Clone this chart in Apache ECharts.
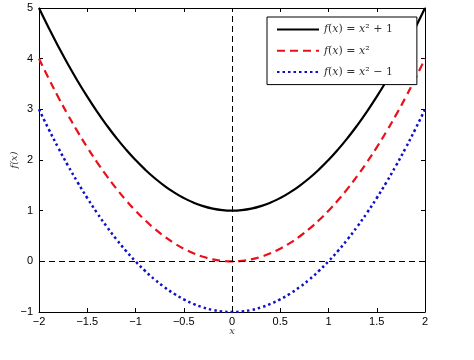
<!DOCTYPE html>
<html>
<head>
<meta charset="utf-8">
<script src="https://cdn.jsdelivr.net/npm/echarts@6/dist/echarts.min.js"></script>
<style>
  html, body { margin: 0; padding: 0; background: #fff; }
  #chart { width: 474px; height: 360px; }
</style>
</head>
<body>
<div id="chart"></div>
<script>
// x 取样点
const xs = [-2, -1.9, -1.8, -1.7, -1.6, -1.5, -1.4, -1.3, -1.2, -1.1, -1, -0.9, -0.8, -0.7, -0.6, -0.5, -0.4, -0.3, -0.2, -0.1, 0,
  0.1, 0.2, 0.3, 0.4, 0.5, 0.6, 0.7, 0.8, 0.9, 1, 1.1, 1.2, 1.3, 1.4, 1.5, 1.6, 1.7, 1.8, 1.9, 2];
const yPlusOne = [5, 4.61, 4.24, 3.89, 3.56, 3.25, 2.96, 2.69, 2.44, 2.21, 2, 1.81, 1.64, 1.49, 1.36, 1.25, 1.16, 1.09, 1.04, 1.01, 1,
  1.01, 1.04, 1.09, 1.16, 1.25, 1.36, 1.49, 1.64, 1.81, 2, 2.21, 2.44, 2.69, 2.96, 3.25, 3.56, 3.89, 4.24, 4.61, 5];
const ySquare = [4, 3.61, 3.24, 2.89, 2.56, 2.25, 1.96, 1.69, 1.44, 1.21, 1, 0.81, 0.64, 0.49, 0.36, 0.25, 0.16, 0.09, 0.04, 0.01, 0,
  0.01, 0.04, 0.09, 0.16, 0.25, 0.36, 0.49, 0.64, 0.81, 1, 1.21, 1.44, 1.69, 1.96, 2.25, 2.56, 2.89, 3.24, 3.61, 4];
const yMinusOne = [3, 2.61, 2.24, 1.89, 1.56, 1.25, 0.96, 0.69, 0.44, 0.21, 0, -0.19, -0.36, -0.51, -0.64, -0.75, -0.84, -0.91, -0.96, -0.99, -1,
  -0.99, -0.96, -0.91, -0.84, -0.75, -0.64, -0.51, -0.36, -0.19, 0, 0.21, 0.44, 0.69, 0.96, 1.25, 1.56, 1.89, 2.24, 2.61, 3];
const seriesNames = ["f(x) = x² + 1", "f(x) = x²", "f(x) = x² − 1"];

const pairs = (ys) => xs.map((x, i) => [x, ys[i]]);
const minus = (v) => String(v).replace("-", "−");

const axisFont = { color: "#000", fontSize: 11, fontFamily: "Liberation Sans" };
const boxLine = { show: true, onZero: false, lineStyle: { color: "#000", width: 1 } };
const boxTick = { inside: true, length: 4, lineStyle: { color: "#000" } };
const nameFont = { color: "#444", fontSize: 10, fontStyle: "italic", fontFamily: "DejaVu Serif" };

const myChart = echarts.init(document.getElementById("chart"));

const option = {
  animation: false,
  grid: { left: 39, right: 49, top: 8, bottom: 48, containLabel: false, outerBoundsMode: "none" },
  legend: {
    left: 267,
    top: 17,
    orient: "vertical",
    padding: [7, 24, 7, 9],
    itemWidth: 42,
    itemHeight: 14,
    itemGap: 10,
    backgroundColor: "#fff",
    borderColor: "#000",
    borderWidth: 1,
    borderRadius: 0,
    itemStyle: { opacity: 0 },
    data: seriesNames,
    formatter: (name) => {
      // f(x) = x^2 ...
      return name.replace(/f\(x\) = x/, "{i|f}({i|x}) = {i|x}");
    },
    textStyle: {
      color: "#333",
      fontSize: 11,
      fontFamily: "DejaVu Serif",
      rich: { i: { fontStyle: "italic", fontSize: 11, fontFamily: "DejaVu Serif", color: "#333" } },
    },
  },
  xAxis: [
    {
      type: "value",
      min: -2,
      max: 2,
      interval: 0.5,
      name: "x",
      nameLocation: "middle",
      nameGap: 14,
      nameMoveOverlap: false,
      nameTextStyle: nameFont,
      axisLine: boxLine,
      axisTick: boxTick,
      axisLabel: { ...axisFont, margin: 4, formatter: minus },
      splitLine: { show: false },
    },
    {
      type: "value",
      position: "top",
      min: -2,
      max: 2,
      interval: 0.5,
      axisLine: boxLine,
      axisTick: boxTick,
      axisLabel: { show: false },
      splitLine: { show: false },
    },
  ],
  yAxis: [
    {
      type: "value",
      min: -1,
      max: 5,
      interval: 1,
      name: "f(x)",
      nameLocation: "middle",
      nameGap: 20,
      nameMoveOverlap: false,
      nameTextStyle: nameFont,
      axisLine: boxLine,
      axisTick: boxTick,
      axisLabel: { ...axisFont, margin: 6, formatter: minus },
      splitLine: { show: false },
    },
    {
      type: "value",
      position: "right",
      min: -1,
      max: 5,
      interval: 1,
      axisLine: boxLine,
      axisTick: boxTick,
      axisLabel: { show: false },
      splitLine: { show: false },
    },
  ],
  series: [
    {
      name: seriesNames[0],
      type: "line",
      data: pairs(yPlusOne),
      symbol: "none",
      smooth: true,
      z: 3,
      itemStyle: { color: "#000" },
      lineStyle: { color: "#000", width: 2.2 },
      markLine: {
        silent: true,
        symbol: "none",
        label: { show: false },
        lineStyle: { color: "#000", width: 1, type: [6, 4] },
        data: [{ xAxis: 0 }, { yAxis: 0 }],
      },
    },
    {
      name: seriesNames[1],
      type: "line",
      data: pairs(ySquare),
      symbol: "none",
      smooth: true,
      z: 3,
      itemStyle: { color: "#e8101a" },
      lineStyle: { color: "#e8101a", width: 2.2, type: [8, 5] },
    },
    {
      name: seriesNames[2],
      type: "line",
      data: pairs(yMinusOne),
      symbol: "none",
      smooth: true,
      z: 3,
      itemStyle: { color: "#1010c8" },
      lineStyle: { color: "#1010c8", width: 2.5, type: [2.5, 3] },
    },
  ],
};

myChart.setOption(option);
window.addEventListener("resize", () => {
  myChart.resize();
});
</script>
</body>
</html>
